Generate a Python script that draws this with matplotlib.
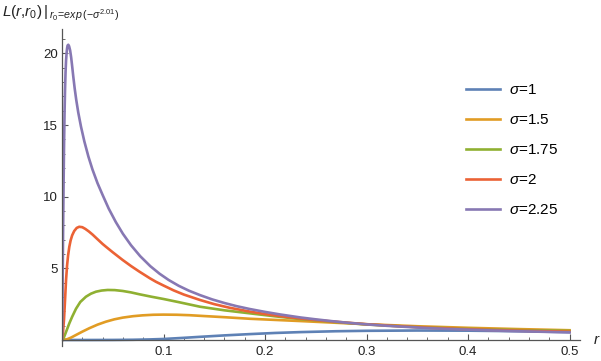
import matplotlib
matplotlib.use('Agg')
import matplotlib.pyplot as plt
from matplotlib.ticker import MultipleLocator

plt.rcParams['font.family'] = ['Liberation Sans', 'DejaVu Sans']
plt.rcParams['mathtext.fontset'] = 'custom'
plt.rcParams['mathtext.rm'] = 'Liberation Sans'
plt.rcParams['mathtext.it'] = 'Liberation Sans:italic'

labels = ['$\\sigma$=1', '$\\sigma$=1.5', '$\\sigma$=1.75', '$\\sigma$=2', '$\\sigma$=2.25']
colors = ['#5E81B5', '#E19C24', '#8FB032', '#EB6235', '#8778B3']

# sigma = 1
r_s1 = [0, 0.03, 0.05, 0.07, 0.087, 0.1, 0.12, 0.136, 0.16, 0.185, 0.21, 0.235,
        0.27, 0.3, 0.35, 0.4, 0.45, 0.5]
L_s1 = [0, 0, 0.003, 0.015, 0.04, 0.07, 0.15, 0.22, 0.32, 0.41, 0.49, 0.55,
        0.61, 0.64, 0.66, 0.65, 0.61, 0.55]

# sigma = 1.5
r_s15 = [0, 0.005, 0.009, 0.0138, 0.02, 0.0269, 0.035, 0.0434, 0.0515, 0.0598, 0.07,
         0.0795, 0.09, 0.1, 0.113, 0.1254, 0.14, 0.16, 0.185, 0.21, 0.235, 0.27,
         0.3, 0.35, 0.4, 0.45, 0.5]
L_s15 = [0, 0.05, 0.17, 0.35, 0.58, 0.82, 1.07, 1.28, 1.44, 1.56, 1.66,
         1.72, 1.76, 1.77, 1.76, 1.73, 1.67, 1.59, 1.48, 1.4, 1.32, 1.2,
         1.1, 0.96, 0.85, 0.76, 0.68]

# sigma = 1.75
r_s175 = [0, 0.0015, 0.003, 0.005, 0.0072, 0.01, 0.0138, 0.018, 0.0236, 0.0285, 0.0335,
          0.039, 0.045, 0.052, 0.0598, 0.068, 0.0762, 0.088, 0.1, 0.115, 0.136, 0.16,
          0.185, 0.21, 0.2345, 0.27, 0.3, 0.35, 0.4, 0.45, 0.5]
L_s175 = [0, 0.12, 0.38, 0.75, 1.16, 1.62, 2.18, 2.65, 3.02, 3.23, 3.37,
          3.45, 3.49, 3.48, 3.42, 3.32, 3.19, 3.02, 2.86, 2.64, 2.32, 2.07,
          1.86, 1.65, 1.46, 1.25, 1.08, 0.9, 0.77, 0.69, 0.63]

# sigma = 2
r_s2 = [0, 0.001, 0.002, 0.003, 0.004, 0.005, 0.006, 0.0072, 0.0085, 0.01, 0.012,
        0.0145, 0.017, 0.02, 0.023, 0.0265, 0.0302, 0.035, 0.04, 0.0434, 0.05,
        0.0598, 0.068, 0.0762, 0.0867, 0.0926, 0.1, 0.11, 0.12, 0.136, 0.15, 0.165,
        0.185, 0.2, 0.22, 0.235, 0.25, 0.27, 0.3, 0.33, 0.36, 0.4, 0.45, 0.5]
L_s2 = [0, 0.55, 1.45, 2.8, 4.2, 5.2, 5.9, 6.5, 6.95, 7.3, 7.6,
        7.82, 7.9, 7.87, 7.75, 7.57, 7.35, 7.03, 6.7, 6.5, 6.12,
        5.58, 5.16, 4.77, 4.3, 4.06, 3.8, 3.46, 3.17, 2.79, 2.5, 2.25,
        1.98, 1.81, 1.62, 1.5, 1.39, 1.27, 1.1, 0.97, 0.86, 0.75, 0.65, 0.58]

# sigma = 2.25
r_s225 = [0, 0.0005, 0.001, 0.0015, 0.002, 0.0025, 0.003, 0.0035, 0.004, 0.0045, 0.005,
          0.0055, 0.0062, 0.007, 0.008, 0.009, 0.01, 0.0111, 0.0125, 0.014, 0.016,
          0.0187, 0.022, 0.026, 0.03, 0.035, 0.04, 0.046, 0.053, 0.06, 0.068, 0.077,
          0.087, 0.096, 0.105, 0.115, 0.125, 0.136, 0.148, 0.16, 0.172, 0.185, 0.2,
          0.215, 0.235, 0.25, 0.265, 0.28, 0.3, 0.32, 0.34, 0.36, 0.38, 0.4, 0.425,
          0.45, 0.475, 0.5]
L_s225 = [0, 3, 7, 10.5, 13.5, 15.8, 17.5, 18.7, 19.5, 20.0, 20.35,
          20.55, 20.6, 20.5, 20.21, 19.73, 19.11, 18.39, 17.55, 16.77, 15.88,
          14.89, 13.86, 12.8, 11.9, 10.94, 10.12, 9.17, 8.23, 7.41, 6.61, 5.85,
          5.15, 4.63, 4.19, 3.78, 3.44, 3.13, 2.83, 2.58, 2.36, 2.16, 1.96,
          1.78, 1.57, 1.44, 1.32, 1.21, 1.09, 0.99, 0.91, 0.83, 0.77, 0.72, 0.66,
          0.61, 0.57, 0.53]

rs = [r_s1, r_s15, r_s175, r_s2, r_s225]
Ls = [L_s1, L_s15, L_s175, L_s2, L_s225]

fig = plt.figure(figsize=(6.01, 3.61), dpi=100)
ax = fig.add_axes([62 / 601, 15 / 361, 518 / 601, 317 / 361])

lines = []
for r, L, c, lab in zip(rs, Ls, colors, labels):
    ln, = ax.plot(r, L, color=c, lw=1.9, label=lab, solid_joinstyle='round')
    lines.append(ln)

ax.set_xlim(0, 0.5103)
ax.set_ylim(-0.42, 21.7)

axcol = '#555555'
for s in ['top', 'right']:
    ax.spines[s].set_visible(False)
ax.spines['bottom'].set_position(('data', 0))
for s in ['left', 'bottom']:
    ax.spines[s].set_color(axcol)
    ax.spines[s].set_linewidth(0.9)

ax.xaxis.set_minor_locator(MultipleLocator(0.02))
ax.yaxis.set_minor_locator(MultipleLocator(1))
ax.set_xticks([0.1, 0.2, 0.3, 0.4, 0.5])
ax.set_yticks([5, 10, 15, 20])
ax.tick_params(which='both', direction='in', color=axcol, labelcolor='#222222',
               labelsize=9.5)
ax.tick_params(which='major', length=4, width=0.8)
ax.tick_params(which='minor', length=2.3, width=0.6)
ax.tick_params(axis='x', pad=4)
ax.tick_params(axis='y', pad=3)

fig.text(596.5 / 601, 1 - 340 / 361, '$r$', ha='center', va='center', fontsize=11,
         color='#222222')
fig.text(2 / 601, 1 - 4 / 361,
         '$L(r{,}r_0)\\,|_{\\,r_0\\!=\\!exp\\,(-\\sigma^{2.01})}$',
         ha='left', va='top', fontsize=11, color='#222222')

fig.legend(handles=lines, loc='center left',
           bbox_to_anchor=(466 / 601, 1 - 150 / 361), bbox_transform=fig.transFigure,
           frameon=False, fontsize=11, handlelength=2.2, handletextpad=0.6,
           labelspacing=1.05, borderpad=0, borderaxespad=0)

fig.savefig('out.png', dpi=100)
